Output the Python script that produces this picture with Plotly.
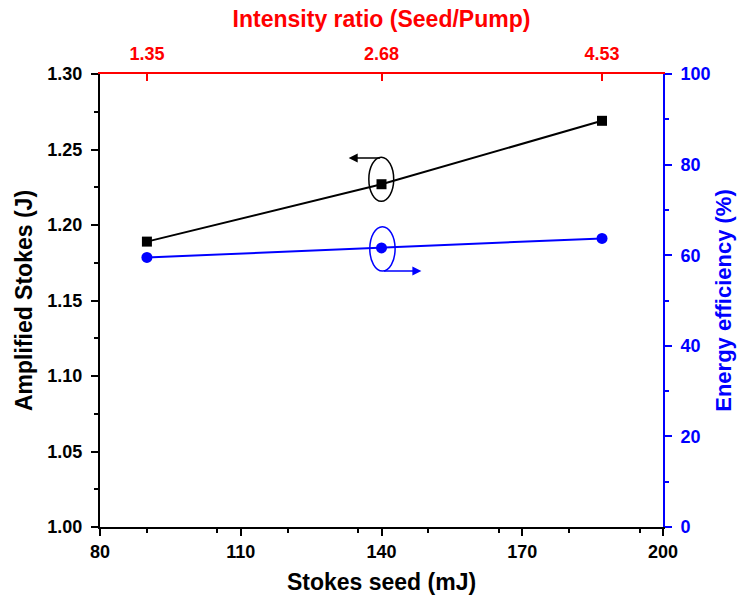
import plotly.graph_objects as go

stokes_seed = [90, 140, 187]
amplified_stokes = [1.189, 1.227, 1.269]
energy_efficiency = [59.5, 61.6, 63.7]
intensity_ratio_labels = ["1.35", "2.68", "4.53"]

FONT = "Liberation Sans"
fig = go.Figure()
fig.add_trace(go.Scatter(x=stokes_seed, y=amplified_stokes, mode="lines+markers",
                         line=dict(color="black", width=2),
                         marker=dict(symbol="square", size=10, color="black"),
                         xaxis="x", yaxis="y", showlegend=False))
fig.add_trace(go.Scatter(x=stokes_seed, y=energy_efficiency, mode="lines+markers",
                         line=dict(color="blue", width=2),
                         marker=dict(symbol="circle", size=11, color="blue"),
                         xaxis="x", yaxis="y2", showlegend=False))
# invisible trace on top axis
fig.add_trace(go.Scatter(x=stokes_seed, y=amplified_stokes, mode="markers",
                         marker=dict(opacity=0), xaxis="x2", yaxis="y",
                         showlegend=False, hoverinfo="skip"))

def tf(color, size=18):
    return dict(family=FONT, size=size, color=color, weight="bold")

TS = 23
fig.update_layout(
    width=739, height=600,
    margin=dict(l=100, r=76, t=74, b=73),
    plot_bgcolor="white", paper_bgcolor="white",
    xaxis=dict(range=[80, 200], tickvals=[80, 110, 140, 170, 200], automargin=False,
               showline=True, linecolor="black", linewidth=2,
               ticks="outside", ticklen=7, tickwidth=2, tickcolor="black",
               minor=dict(dtick=15, ticks="outside", ticklen=4, tickwidth=2, tickcolor="black"),
               showgrid=False, zeroline=False,
               tickfont=tf("black"),
               title=dict(text="Stokes seed (mJ)", font=tf("black", TS), standoff=13)),
    xaxis2=dict(range=[80, 200], overlaying="x", side="top", anchor="y", automargin=False,
                tickvals=stokes_seed, ticktext=intensity_ratio_labels,
                showline=True, linecolor="red", linewidth=2,
                ticks="inside", ticklen=7, tickwidth=2, tickcolor="red",
                ticklabelstandoff=5,
                showgrid=False, zeroline=False,
                tickfont=tf("red"),
                title=dict(text="Intensity ratio (Seed/Pump)", font=tf("red", TS), standoff=10)),
    yaxis=dict(range=[1.0, 1.3], tickvals=[1.0, 1.05, 1.1, 1.15, 1.2, 1.25, 1.3], automargin=False,
               tickformat=".2f",
               showline=True, linecolor="black", linewidth=2,
               ticks="outside", ticklen=7, tickwidth=2, tickcolor="black",
               ticklabelstandoff=5,
               minor=dict(dtick=0.025, ticks="outside", ticklen=4, tickwidth=2, tickcolor="black"),
               showgrid=False, zeroline=False,
               tickfont=tf("black"),
               title=dict(text="Amplified Stokes (J)", font=tf("black", TS), standoff=8)),
    yaxis2=dict(range=[0, 100], overlaying="y", side="right", anchor="x", automargin=False,
                tickvals=[0, 20, 40, 60, 80, 100],
                showline=True, linecolor="blue", linewidth=2,
                ticks="outside", ticklen=7, tickwidth=2, tickcolor="blue",
                ticklabelstandoff=5,
                minor=dict(dtick=10, ticks="outside", ticklen=4, tickwidth=2, tickcolor="blue"),
                showgrid=False, zeroline=False,
                tickfont=tf("blue"),
                title=dict(text="Energy efficiency (%)", font=tf("blue", 22), standoff=6)),
)

# ellipses
fig.add_shape(type="circle", xref="x", yref="y", x0=137.3, x1=142.6, y0=1.2157, y1=1.2449,
              line=dict(color="black", width=1.5))
fig.add_shape(type="circle", xref="x", yref="y2", x0=137.5, x1=142.9, y0=56.5, y1=66.3,
              line=dict(color="blue", width=1.5))
# arrows
fig.add_annotation(x=133, y=1.2443, ax=140, ay=1.2443, xref="x", yref="y", axref="x", ayref="y",
                   showarrow=True, arrowhead=2, arrowsize=1.2, arrowwidth=1.5, arrowcolor="black", text="")
fig.add_annotation(x=148.5, y=56.5, ax=140.2, ay=56.5, xref="x", yref="y2", axref="x", ayref="y2",
                   showarrow=True, arrowhead=2, arrowsize=1.2, arrowwidth=1.5, arrowcolor="blue", text="")

fig.write_html("out.html")
